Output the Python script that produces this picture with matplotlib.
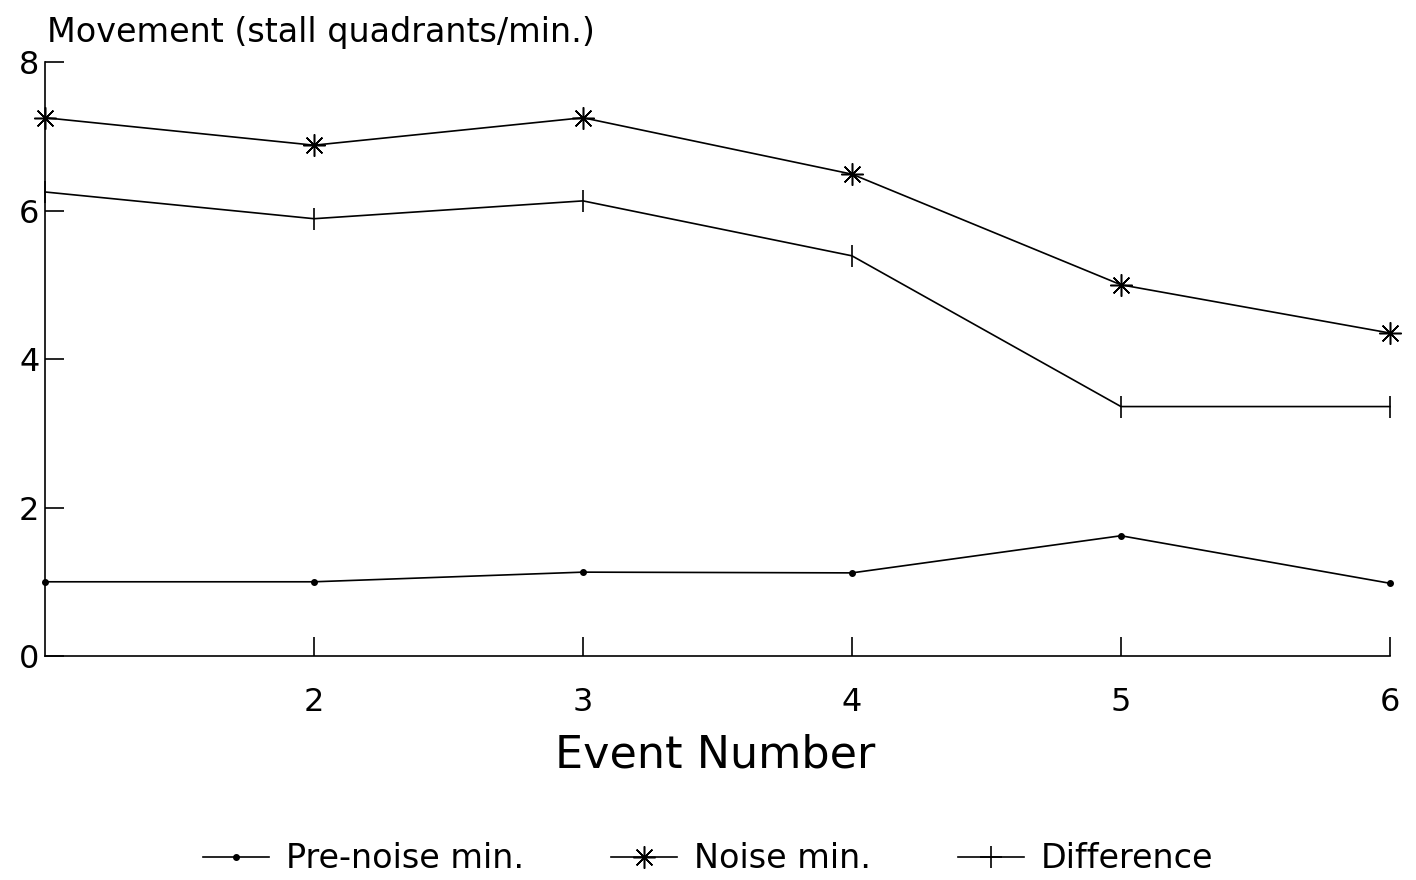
import matplotlib.pyplot as plt
from matplotlib.lines import Line2D

plt.rcParams['font.family'] = ['DejaVu Sans']

events = [1, 2, 3, 4, 5, 6]
pre_noise = [1.0, 1.0, 1.13, 1.12, 1.62, 0.98]
noise = [7.25, 6.88, 7.25, 6.49, 5.0, 4.35]
difference = [6.25, 5.89, 6.13, 5.39, 3.36, 3.36]

x_ticks = [2, 3, 4, 5, 6]
y_ticks = [0, 2, 4, 6, 8]

fig = plt.figure(figsize=(14.16, 8.8), dpi=100)
ax = fig.add_axes([0.0318, 0.2545, 0.9498, 0.675])

star = (8, 2, 0)
line_kw = dict(color='black', linewidth=1.2)
ax.plot(events, pre_noise, marker='o', markersize=4, **line_kw, label='Pre-noise min.')
ax.plot(events, noise, marker=star, markersize=16, markeredgewidth=1.1,
        **line_kw, label='Noise min.')
ax.plot(events, difference, marker='|', markersize=16, markeredgewidth=1.2,
        **line_kw, label='Difference')

ax.set_xlim(1, 6)
ax.set_ylim(0, 8)
ax.set_xticks(x_ticks)
ax.set_yticks(y_ticks)
ax.tick_params(direction='in', length=14, width=1.2, labelsize=23)
ax.tick_params(axis='x', pad=22)
ax.tick_params(axis='y', pad=4)
for side in ('top', 'right'):
    ax.spines[side].set_visible(False)
for side in ('left', 'bottom'):
    ax.spines[side].set_linewidth(1.2)
for ln in ax.lines:
    ln.set_clip_on(False)

fig.text(0.033, 1 - 42 / 880, 'Movement (stall quadrants/min.)', fontsize=24,
         ha='left', va='baseline')
fig.text(0.505, 0.142, 'Event Number', fontsize=32, ha='center', va='center')

handles = [
    Line2D([], [], color='black', linewidth=1.2, marker='o', markersize=4),
    Line2D([], [], color='black', linewidth=1.2, marker=star, markersize=16,
           markeredgewidth=1.1),
    Line2D([], [], color='black', linewidth=1.2, marker='+', markersize=16,
           markeredgewidth=1.2),
]
labels = ['Pre-noise min.', 'Noise min.', 'Difference']
fig.legend(handles, labels, loc='center', bbox_to_anchor=(0.5, 0.024), ncol=3,
           frameon=False, fontsize=24, handlelength=2.0, handletextpad=0.5,
           columnspacing=2.6)

fig.savefig('out.png', dpi=100)
